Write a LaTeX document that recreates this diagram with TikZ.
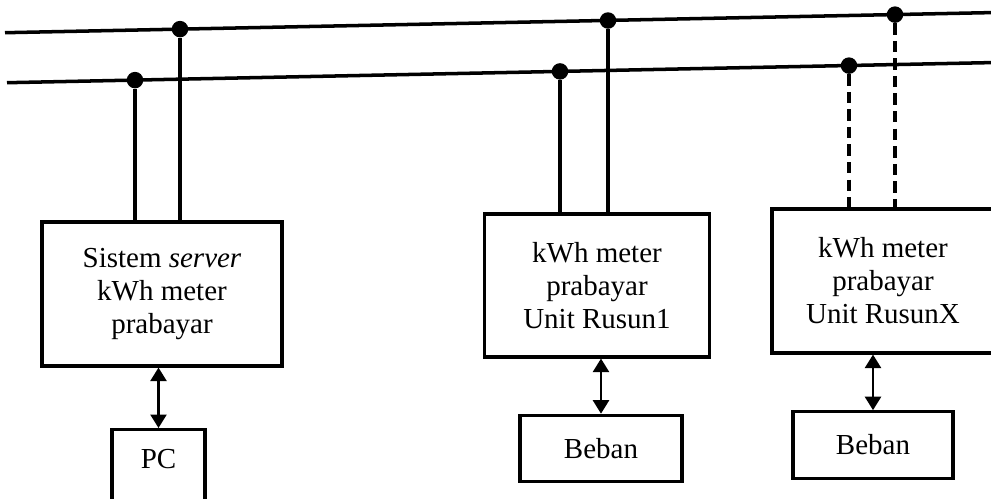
\documentclass[tikz,border=0pt]{standalone}
\usepackage{fontspec}
\setmainfont{Liberation Serif}
\usetikzlibrary{arrows.meta, positioning}

\begin{document}
\begin{tikzpicture}[x=0.02cm, y=-0.02cm,
        box/.style={rectangle, draw=black, line width=1.8pt, align=center, font=\fontsize{16.5}{18.8}\selectfont},
        meter/.style={box, minimum width=4.5cm, minimum height=2.86cm},
        load/.style={box, minimum width=3.2cm, minimum height=1.33cm},
        dot/.style={circle, fill=black, inner sep=0pt, minimum size=0.33cm},
        bus/.style={line width=2pt},
        feed/.style={line width=2pt},
        feedx/.style={line width=2pt, dash pattern=on 6.5pt off 3.5pt},
        link/.style={line width=1.4pt, {Triangle[length=0.27cm, width=0.32cm]}-{Triangle[length=0.27cm, width=0.32cm]}}
    ]%
        \useasboundingbox (0,0) rectangle (991,498);
        \clip (0,0) rectangle (991,498);
        % ================= JALUR BUS (DUA KAWAT) =================
        \coordinate (busA1) at (5,32.7);
        \coordinate (busA2) at (996,12.5);
        \coordinate (busB1) at (7,82.7);
        \coordinate (busB2) at (996,62.5);
        \draw[bus] (busA1) -- (busA2);
        \draw[bus] (busB1) -- (busB2);
        % ================= TITIK SAMBUNG =================
        \node[dot] (j1) at (135,80.1) {};
        \node[dot] (j2) at (180,29.1) {};
        \node[dot] (j3) at (560,71.4) {};
        \node[dot] (j4) at (608,20.5) {};
        \node[dot] (j5) at (849,65.6) {};
        \node[dot] (j6) at (895,14.6) {};
        % ================= KWH METER =================
        \node[meter, minimum width=4.8cm, minimum height=2.88cm] (srv) at (162,294) {Sistem \textit{server}\\kWh meter\\prabayar};
        \node[meter] (rusun1) at (597,285.5) {kWh meter\\prabayar\\Unit Rusun1};
        \node[meter, minimum width=4.44cm, minimum height=2.88cm] (rusunx) at (883,281) {kWh meter\\prabayar\\Unit RusunX};
        % ================= PC DAN BEBAN =================
        \node[box, anchor=north, minimum width=1.86cm, inner ysep=0.4cm, text depth=1cm] (pc) at (158.5,428) {PC};
        \node[load, minimum width=3.24cm] (beban1) at (601,448.5) {Beban};
        \node[load] (bebanx) at (873,445) {Beban};
        % ================= SAMBUNGAN KE BUS =================
        \draw[feed] (j1) -- (j1 |- srv.north);
        \draw[feed] (j2) -- (j2 |- srv.north);
        \draw[feed] (j3) -- (j3 |- rusun1.north);
        \draw[feed] (j4) -- (j4 |- rusun1.north);
        \draw[feedx] (j5) -- (j5 |- rusunx.north);
        \draw[feedx] (j6) -- (j6 |- rusunx.north);
        % ================= KOMUNIKASI DUA ARAH =================
        \draw[link] (pc.north) -- (pc.north |- srv.south);
        \draw[link] (beban1.north) -- (beban1.north |- rusun1.south);
        \draw[link] (bebanx.north) -- (bebanx.north |- rusunx.south);
    \end{tikzpicture}
\end{document}
